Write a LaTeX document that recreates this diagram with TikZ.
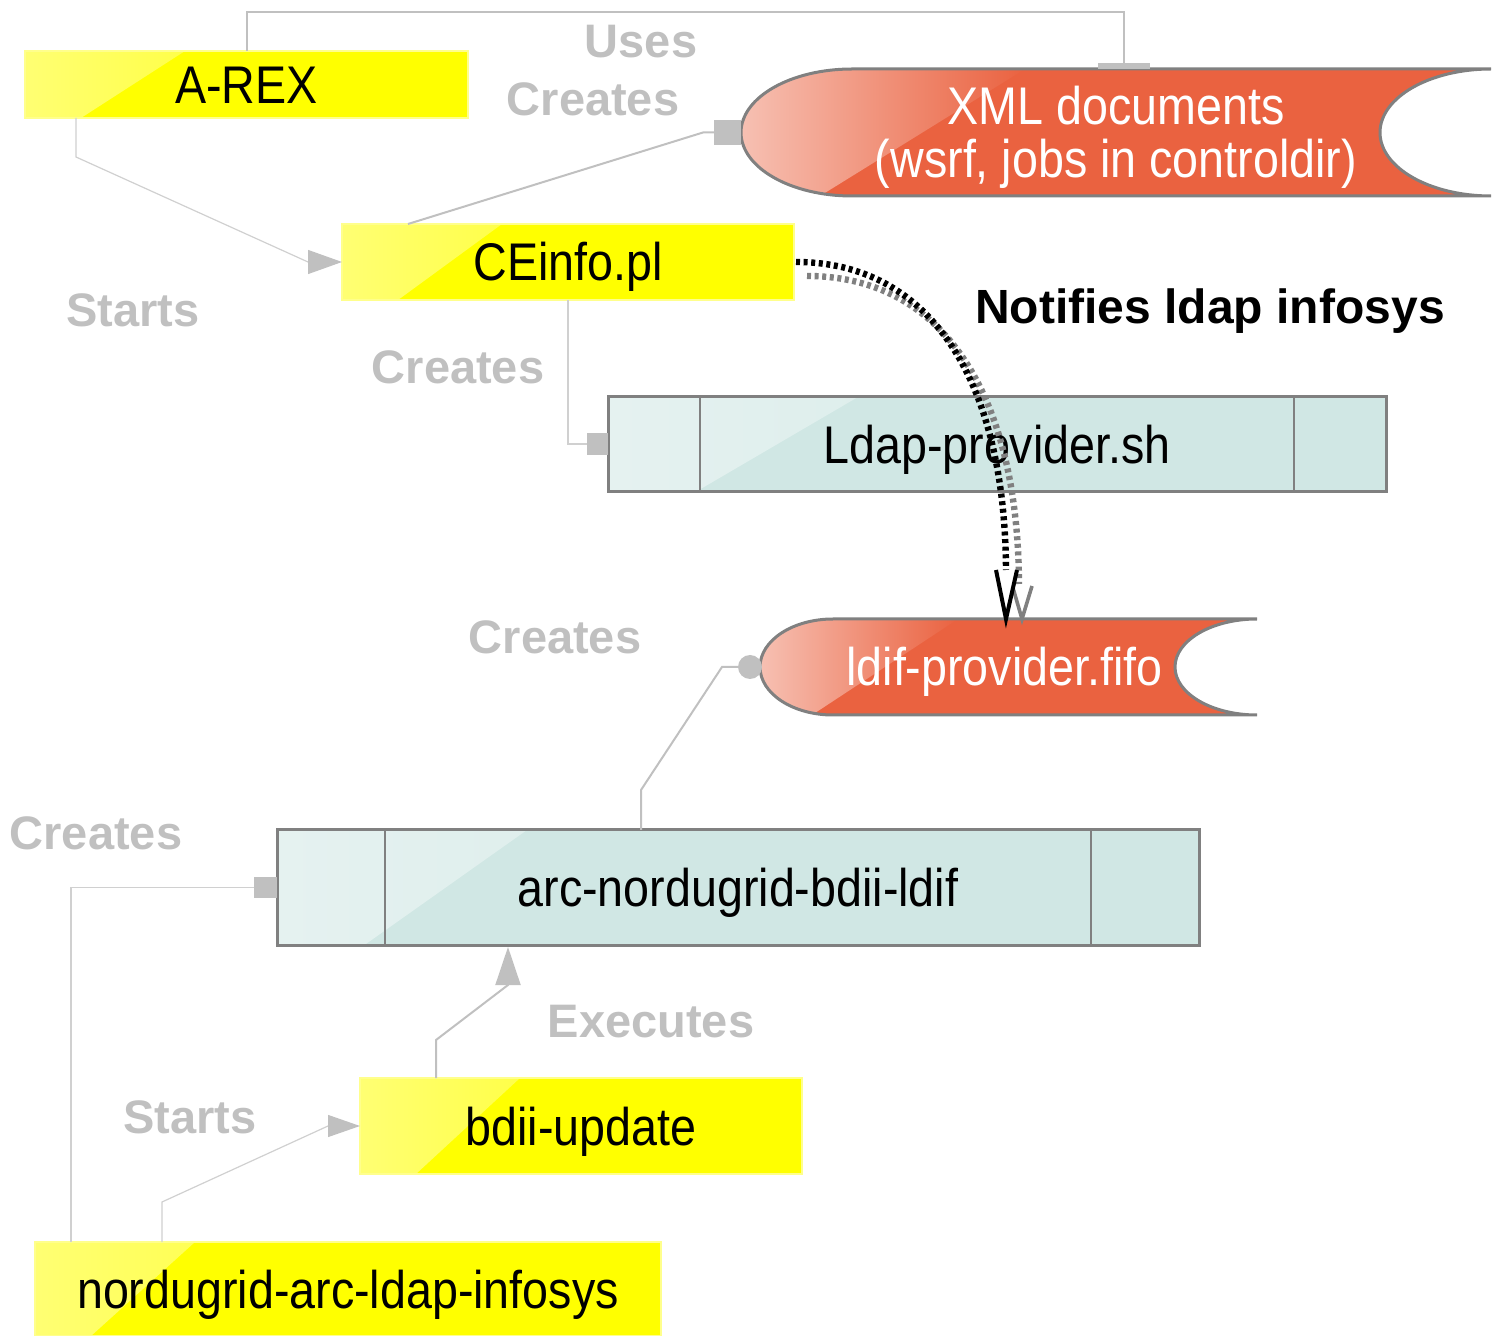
\documentclass[tikz,border=0pt]{standalone}
\usepackage{fontspec}
\setmainfont{Liberation Sans}
\newfontfamily\nodefont{Liberation Sans}[FakeStretch=0.88]
\usetikzlibrary{arrows.meta,shapes.geometric}
\definecolor{cyel}{RGB}{255,255,0}
\definecolor{cteal}{RGB}{208,231,228}
\definecolor{cred}{RGB}{234,98,64}
\definecolor{cgrey}{RGB}{192,192,192}
\definecolor{clight}{RGB}{208,208,208}
\definecolor{cborder}{RGB}{128,128,128}
\begin{document}
\begin{tikzpicture}[x=0.5pt,y=-0.5pt,
  every node/.style={inner sep=0pt, outer sep=0pt},
  gloss/.style 2 args={path picture={\shade[left color=#1!55!white, middle color=#1!25!white, right color=#1]
     (path picture bounding box.north west) -- ([xshift=#2]path picture bounding box.north west)
     -- ([xshift=#2*0.35]path picture bounding box.south west) -- (path picture bounding box.south west) -- cycle;}},
  nodefontstyle/.style={font=\nodefont\fontsize{26.5}{26.5}\selectfont},
  nodetext/.style={nodefontstyle, text height=19pt, text depth=0pt},
  yelbox/.style={nodetext, draw=cyel!45!white, line width=1pt, fill=cyel, gloss={cyel}{80pt}},
  procbox/.style={nodetext, draw=cborder, line width=1.5pt, fill=cteal, gloss={cteal}{125pt}},
  rtext/.style={nodefontstyle, text=white, align=center},
  glabel/.style={text=cgrey, font=\bfseries\fontsize{23.5}{28}\selectfont, text height=16.8pt, text depth=0pt},
  conn/.style={draw=cgrey, line width=1pt},
  thinconn/.style={draw=clight, line width=0.6pt},
  sqterm/.style={fill=cgrey, draw=none},
  dotblack/.style={draw=black, line width=3.2pt, dash pattern=on 2pt off 1.8pt},
  dotgrey/.style={draw=cborder, line width=3.2pt, dash pattern=on 2pt off 1.8pt},
]
\useasboundingbox (0,0) rectangle (1495,1336);

% ---------- red data shapes ----------
\def\xmlpath{(852,69) .. controls (790.7,69) and (741,97.4) .. (741,132.5) .. controls (741,167.6) and (790.7,196) .. (852,196) -- (1491,196) .. controls (1429.7,196) and (1380,167.6) .. (1380,132.5) .. controls (1380,97.4) and (1429.7,69) .. (1491,69) -- cycle}
\def\fifopath{(833,619) .. controls (792.7,619) and (760,640.5) .. (760,667) .. controls (760,693.5) and (792.7,715) .. (833,715) -- (1257,715) .. controls (1211.7,715) and (1175,693.5) .. (1175,667) .. controls (1175,640.5) and (1211.7,619) .. (1257,619) -- cycle}
\fill[cred] \xmlpath;
\begin{scope}
  \clip \xmlpath;
  \shade[left color=cred!40!white, middle color=white!85!cred, right color=cred] (741,69) -- (1025,69) -- (820,196) -- (741,196) -- cycle;
\end{scope}
\draw[cborder, line width=1.5pt] \xmlpath;
\fill[cred] \fifopath;
\begin{scope}
  \clip \fifopath;
  \shade[left color=cred!40!white, middle color=white!85!cred, right color=cred] (760,619) -- (958,619) -- (812,715) -- (760,715) -- cycle;
\end{scope}
\draw[cborder, line width=1.5pt] \fifopath;
\node[minimum width=375pt, minimum height=63.5pt,
      label={[rtext, yshift=-2.5pt]center:{XML documents\\(wsrf, jobs in controldir)}}] (xml) at (1116,132.5) {};
\node[minimum width=248.5pt, minimum height=48pt,
      label={[nodetext, text=white, xshift=-2pt]center:ldif-provider.fifo}] (fifo) at (1008.5,667) {};

% ---------- boxes ----------
\node[yelbox, minimum width=221.5pt, minimum height=33.5pt] (arex) at (246.5,84.5) {A-REX};
\node[yelbox, minimum width=226pt, minimum height=38pt] (ceinfo) at (568,262) {CEinfo.pl};
\node[yelbox, minimum width=221pt, minimum height=48pt] (bdii) at (581,1126) {bdii-update};
\node[yelbox, minimum width=313pt, minimum height=47pt] (nord) at (348,1289) {nordugrid-arc-ldap-infosys};

\node[procbox, minimum width=389pt, minimum height=47.5pt] (ldap) at (997,444.5) {Ldap-provider.sh};
\draw[cborder, line width=1pt] ([xshift=46pt]ldap.north west) -- ([xshift=46pt]ldap.south west);
\draw[cborder, line width=1pt] ([xshift=-46pt]ldap.north east) -- ([xshift=-46pt]ldap.south east);
\node[procbox, minimum width=461pt, minimum height=57.5pt] (arc) at (738,887.5) {arc-nordugrid-bdii-ldif};
\draw[cborder, line width=1pt] ([xshift=54pt]arc.north west) -- ([xshift=54pt]arc.south west);
\draw[cborder, line width=1pt] ([xshift=-54pt]arc.north east) -- ([xshift=-54pt]arc.south east);

% ---------- terminators ----------
\node[sqterm, minimum width=26pt, minimum height=3pt, anchor=south] (t1) at ([xshift=4pt]xml.north) {};
\node[sqterm, minimum width=13.5pt, minimum height=12.5pt, anchor=east] (t2) at (xml.west) {};
\node[sqterm, minimum width=10.5pt, minimum height=11pt, anchor=east] (t4) at (ldap.west) {};
\node[sqterm, circle, minimum size=12pt, anchor=east] (t6) at ([xshift=1pt]fifo.west) {};
\node[sqterm, minimum width=11.5pt, minimum height=10.5pt, anchor=east] (t7) at (arc.west) {};

% ---------- connectors ----------
\draw[conn] (arex.north) -- ++(0,-39) -| (t1.north);
\draw[conn] ([xshift=33pt]ceinfo.north west) -- ([xshift=-5.5pt]t2.west) -- (t2.west);
\draw[thinconn, -{Triangle[length=17pt,width=12pt,color=cgrey]}] ([xshift=25.5pt]arex.south west) -- ++(0,39) -- ([xshift=-17pt]ceinfo.west) -- (ceinfo.west);
\draw[conn, draw=clight] (ceinfo.south) |- (t4.west);
\draw[conn] ([xshift=-48.5pt]arc.north) -- ++(0,-40) -- ([xshift=-8pt]t6.west) -- (t6.west);
\draw[thinconn] ([xshift=18pt]nord.north west) |- (t7.west);
\draw[conn, -{Triangle[length=19pt,width=12.5pt]}] ([xshift=38pt]bdii.north west) -- ++(0,-38) -- ([xshift=-115pt,yshift=-20pt]arc.south) -- ([xshift=-115pt,yshift=-1pt]arc.south);
\draw[thinconn, -{Triangle[length=16pt,width=11pt,color=cgrey]}] ([xshift=63.5pt]nord.north west) -- ++(0,-40) -- ([xshift=-16pt]bdii.west) -- (bdii.west);

% notifies (dotted with shadow)
\coordinate (vtop) at (1006,570);
\draw[dotgrey, transform canvas={shift={(6.5pt,-7pt)}}] (ceinfo.east) .. controls (930,262) and (1005,380) .. (vtop);
\draw[cborder, line width=1.8pt] ([xshift=3.5pt,yshift=-9pt]vtop) -- ([xshift=8pt]fifo.north -| vtop) -- ([xshift=13pt,yshift=-8pt]vtop);
\draw[dotblack] ([xshift=1pt]ceinfo.east) .. controls (930,262) and (1005,380) .. (vtop);
\draw[black, line width=2pt] ([xshift=-5pt]vtop) -- (fifo.north -| vtop) -- ([xshift=5.5pt]vtop);

% ---------- labels ----------
\node[glabel] (l1) at (641,41) {Uses};
\node[glabel] (l2) at (593,99) {Creates};
\node[glabel] (l3) at (133,310) {Starts};
\node[glabel] (l4) at (458,367) {Creates};
\node[font=\bfseries\fontsize{24}{28}\selectfont, text height=17.2pt, text depth=0pt] (l5) at (1210,306) {Notifies ldap infosys};
\node[glabel] (l6) at (555,637) {Creates};
\node[glabel] (l7) at (96,833) {Creates};
\node[glabel] (l8) at (651,1021) {Executes};
\node[glabel] (l9) at (190,1117) {Starts};
\end{tikzpicture}
\end{document}
